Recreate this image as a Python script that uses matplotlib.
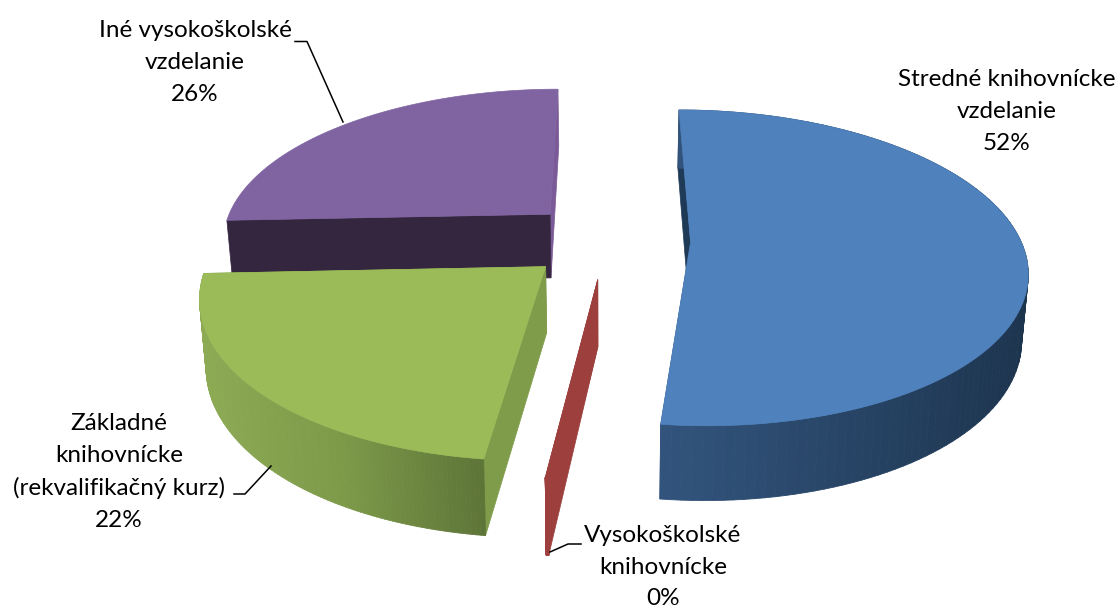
import numpy as np
import matplotlib
matplotlib.use("Agg")
import matplotlib.pyplot as plt
from matplotlib.collections import PolyCollection
from matplotlib.colors import to_rgb

kategorie = ["Stredné knihovnícke\nvzdelanie", "Vysokoškolské\nknihovnícke",
             "Základné\nknihovnícke\n(rekvalifikačný kurz)", "Iné vysokoškolské\nvzdelanie"]
hodnoty = [51.85, 0.1, 22.39, 25.66]

# styl kazdego wycinka: gora, sciana boczna (kolor wg kata), sciany radialne
kolor_gora = ["#4F81BD", "#9C3F3D", "#9BBB59", "#8064A2"]
kolor_start = ["#1F3A57", "#9C3F3D", "#7F9C4A", "#35263F"]
kolor_koniec = ["#2E5078", "#9C3F3D", "#7F9C4A", "#7A5B97"]
sciana_kolory = [["#1D344E", "#24405F", "#2B4A6E", "#32547C"],
                 ["#9C3F3D", "#9C3F3D"],
                 ["#5E7538", "#7D9A49", "#8DAA55"],
                 ["#35263F", "#35263F"]]

poz_etykiet = [(1007, 111.5), (663, 567), (119, 472), (195, 62.5)]
linie = [None,
         [(581, 544), (568, 544), (550, 552)],
         [(234, 494), (245, 494), (271, 466)],
         [(295, 41.5), (307, 41.5), (343, 122)]]

cx, cy = 608, 240
R, Rk = 330, 153
persp = 0.162
wybuch = 0.25
h = 65
zbieg = 0.984
kat0 = 0.0


def rzut(X, Y, dol=False):
    s = 1 / (1 + persp * Y)
    x = cx + X * R * s
    y = cy - Y * Rk * s
    if dol:
        x = cx + (x - cx) * zbieg
        y = cy + (y - cy) * zbieg + h * s
    return np.column_stack([x, y])


def kolor_gradient(stopy, f):
    rgb = np.array([to_rgb(k) for k in stopy])
    pos = np.linspace(0, 1, len(stopy))
    return [np.interp(f, pos, rgb[:, i]) for i in range(3)]


fig = plt.figure(figsize=(11.2, 6.07), dpi=100)
ax = fig.add_axes([0, 0, 1, 1])
ax.set_xlim(0, 1120)
ax.set_ylim(607, 0)
ax.axis("off")

hodnoty = np.array(hodnoty)
katy = kat0 + np.concatenate([[0], np.cumsum(hodnoty)]) / hodnoty.sum() * 360

# rysowanie od tylu do przodu
for i in [3, 2, 1, 0]:
    z = (3 - i) * 10
    t0, t1 = np.radians(katy[i]), np.radians(katy[i + 1])
    mid = (t0 + t1) / 2
    X0, Y0 = wybuch * np.sin(mid), wybuch * np.cos(mid)
    t = np.linspace(t0, t1, 121)
    Xr, Yr = X0 + np.sin(t), Y0 + np.cos(t)

    gora_luk = rzut(Xr, Yr)
    dol_luk = rzut(Xr, Yr, True)
    srodek_g = rzut(np.array([X0]), np.array([Y0]))
    srodek_d = rzut(np.array([X0]), np.array([Y0]), True)

    # sciany radialne
    f_start = np.vstack([srodek_g, gora_luk[0], dol_luk[0], srodek_d])
    f_koniec = np.vstack([srodek_g, gora_luk[-1], dol_luk[-1], srodek_d])
    ax.fill(*f_koniec.T, color=kolor_koniec[i], lw=0.5, zorder=z + 1)
    ax.fill(*f_start.T, color=kolor_start[i], lw=0.5, zorder=z + 2)

    # sciana boczna z gradientem od prawej do lewej
    quady = [np.vstack([gora_luk[j], gora_luk[j + 1], dol_luk[j + 1], dol_luk[j]])
             for j in range(len(t) - 1)]
    xs = gora_luk[:-1, 0]
    f = (xs - xs.min()) / max(xs.max() - xs.min(), 1)
    if i == 0 or i == 2:
        f = 1 - f
    kolory = [kolor_gradient(sciana_kolory[i], v) for v in f]
    if i != 3:
        ax.add_collection(PolyCollection(quady, facecolors=kolory, edgecolors=kolory,
                                         linewidths=0.6, zorder=z + 3))

    # gora wycinka
    gora = np.vstack([srodek_g, gora_luk])
    ax.fill(*gora.T, color=kolor_gora[i], lw=0.5, zorder=z + 4)

for i, kat in enumerate(kategorie):
    x, y = poz_etykiet[i]
    ax.text(x, y, f"{kat}\n{round(hodnoty[i])}%", ha="center", va="center", family="Lato",
            fontsize=17.5, linespacing=1.63, color="#000000", zorder=100)
    if linie[i]:
        lx, ly = zip(*linie[i])
        ax.plot(lx, ly, color="black", lw=1.1, zorder=100)

fig.savefig("out.png", dpi=100, facecolor="white")
